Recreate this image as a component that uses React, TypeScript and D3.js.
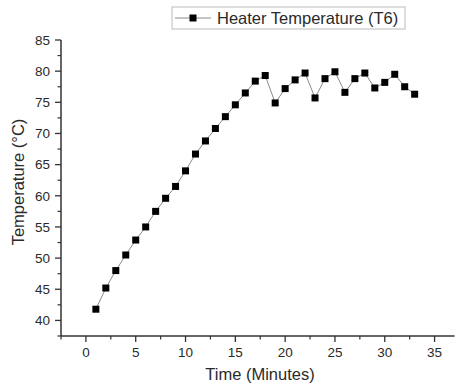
import React from "react";
import * as d3 from "d3";

const minutes = [1,2,3,4,5,6,7,8,9,10,11,12,13,14,15,16,17,18,19,20,21,22,23,24,25,26,27,28,29,30,31,32,33];
const temps = [41.8,45.2,48.0,50.5,52.9,55.0,57.5,59.6,61.5,64.0,66.7,68.8,70.8,72.7,74.6,76.5,78.4,79.3,74.9,77.2,78.6,79.7,75.7,78.8,79.9,76.6,78.8,79.7,77.3,78.2,79.5,77.5,76.3];
const xTicks = [0,5,10,15,20,25,30,35];
const xMinor = [-2.5,2.5,7.5,12.5,17.5,22.5,27.5,32.5];
const yTicks = [40,45,50,55,60,65,70,75,80,85];
const yMinor = [37.5,42.5,47.5,52.5,57.5,62.5,67.5,72.5,77.5,82.5];
const seriesName = "Heater Temperature (T6)";
const xTitle = "Time (Minutes)";
const yTitle = "Temperature (°C)";

const W = 456, H = 385;
const FONT = "'Liberation Sans', Arial, Helvetica, sans-serif";
const TXT = "#2a2a2a";
const AX = "#333";

export default function App() {
  const x = d3.scaleLinear().domain([-2.5, 37]).range([61, 454.5]);
  const y = d3.scaleLinear().domain([37.5, 85]).range([336, 40]);
  const pts = minutes.map((m, i) => [m, temps[i]] as [number, number]);
  const line = d3.line<[number, number]>().x(d => x(d[0])).y(d => y(d[1]));
  const ms = 7;
  return (
    <svg width={W} height={H} style={{ position: "absolute", left: 0, top: 0, background: "#fff" }}>
      <rect x={0} y={0} width={W} height={H} fill="#fff" />
      {/* axes */}
      <line x1={x(-2.5)} x2={x(37)} y1={y(37.5)} y2={y(37.5)} stroke={AX} strokeWidth={1.5} />
      <line x1={x(-2.5)} x2={x(-2.5)} y1={y(37.5)} y2={y(85)} stroke={AX} strokeWidth={1.5} />
      {xTicks.map(t => (
        <g key={"xt" + t}>
          <line x1={x(t)} x2={x(t)} y1={y(37.5)} y2={y(37.5) + 6} stroke={AX} strokeWidth={1.3} />
          <text x={x(t)} y={357} textAnchor="middle" fontFamily={FONT} fontSize={13.5} fill={TXT}>{t}</text>
        </g>
      ))}
      {xMinor.map(t => (
        <line key={"xm" + t} x1={x(t)} x2={x(t)} y1={y(37.5)} y2={y(37.5) + 3.5} stroke={AX} strokeWidth={1.2} />
      ))}
      {yTicks.map(t => (
        <g key={"yt" + t}>
          <line x1={x(-2.5) - 6} x2={x(-2.5)} y1={y(t)} y2={y(t)} stroke={AX} strokeWidth={1.3} />
          <text x={50} y={y(t) + 4.8} textAnchor="end" fontFamily={FONT} fontSize={13.5} fill={TXT}>{t}</text>
        </g>
      ))}
      {yMinor.map(t => (
        <line key={"ym" + t} x1={x(-2.5) - 3.5} x2={x(-2.5)} y1={y(t)} y2={y(t)} stroke={AX} strokeWidth={1.2} />
      ))}
      {/* titles */}
      <text x={260} y={380} textAnchor="middle" fontFamily={FONT} fontSize={16.5} fill={TXT}>{xTitle}</text>
      <text transform="translate(24,182) rotate(-90)" textAnchor="middle" fontFamily={FONT} fontSize={16.5} fill={TXT}>{yTitle}</text>
      {/* series */}
      <path d={line(pts) || ""} fill="none" stroke="#8a8a8a" strokeWidth={1} />
      {pts.map((p, i) => (
        <rect key={i} x={x(p[0]) - ms / 2} y={y(p[1]) - ms / 2} width={ms} height={ms} fill="#000" />
      ))}
      {/* legend */}
      <rect x={172} y={7} width={233} height={22} fill="#fff" stroke="#bbb" strokeWidth={1} />
      <line x1={175} x2={211} y1={18} y2={18} stroke="#8a8a8a" strokeWidth={1} />
      <rect x={193 - ms / 2} y={18 - ms / 2} width={ms} height={ms} fill="#000" />
      <text x={217} y={24} fontFamily={FONT} fontSize={16.5} fill={TXT}>{seriesName}</text>
    </svg>
  );
}
